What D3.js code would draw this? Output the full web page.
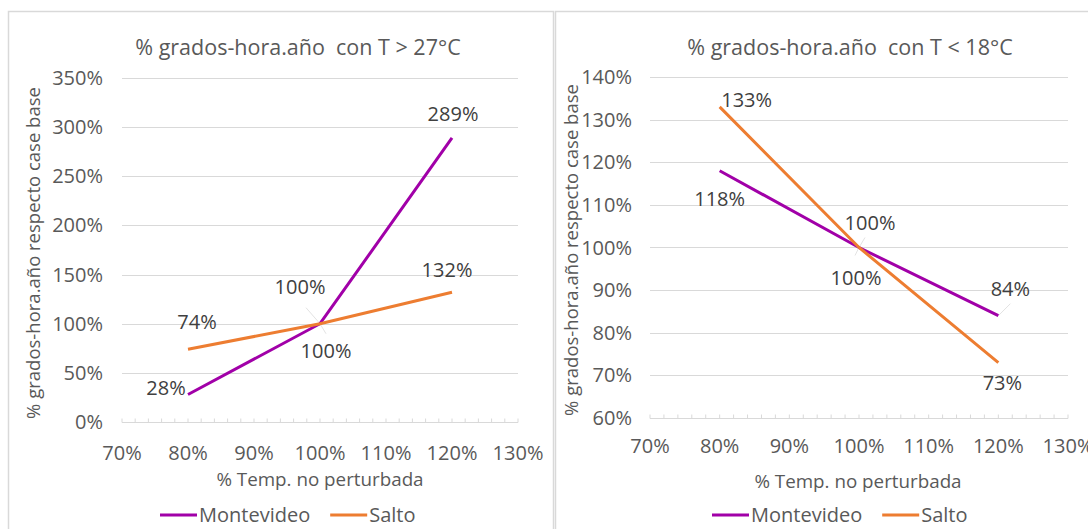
<!DOCTYPE html>
<html>
<head>
<meta charset="utf-8">
<script src="https://cdn.jsdelivr.net/npm/d3@7"></script>
<style>
html,body{margin:0;padding:0;background:#fff;}
svg{display:block;}
text{font-family:"Open Sans","Noto Sans",sans-serif;fill:#595959;white-space:pre;}
</style>
</head>
<body>
<svg id="chart" width="1088" height="529"></svg>
<script>
// ---- data ----
const xValues = [0.8, 1.0, 1.2];
const seriesNames = ["Montevideo", "Salto"];
const seriesColors = ["#A100A8", "#ED7D31"];

const hotTitle = "% grados-hora.año  con T > 27°C";
const hotMontevideo = [0.28, 1.00, 2.89];
const hotSalto = [0.74, 1.00, 1.32];
const hotYTicks = [0, 0.5, 1.0, 1.5, 2.0, 2.5, 3.0, 3.5];

const coldTitle = "% grados-hora.año  con T < 18°C";
const coldMontevideo = [1.18, 1.00, 0.84];
const coldSalto = [1.33, 1.00, 0.73];
const coldYTicks = [0.6, 0.7, 0.8, 0.9, 1.0, 1.1, 1.2, 1.3, 1.4];

const xTicks = [0.7, 0.8, 0.9, 1.0, 1.1, 1.2, 1.3];
const xTitle = "% Temp. no perturbada";
const yTitle = "% grados-hora.año respecto case base";

const svg = d3.select("#chart");
const fmt = d3.format(".0%");

function drawChart(opt) {
  const g = svg.append("g");
  // frame
  g.append("rect").attr("x", opt.frame[0] + 0.5).attr("y", opt.frame[1] + 0.5)
    .attr("width", opt.frame[2]).attr("height", opt.frame[3])
    .attr("fill", "#fff").attr("stroke", "#d9d9d9").attr("stroke-width", 1.5);

  const x = d3.scaleLinear().domain([0.7, 1.3]).range(opt.xr);
  const y = d3.scaleLinear().domain(opt.yd).range(opt.yr);

  // gridlines
  g.append("g").selectAll("line").data(opt.yTicks.slice(1)).join("line")
    .attr("x1", opt.xr[0]).attr("x2", opt.xr[1])
    .attr("y1", d => Math.round(y(d)) + 0.5).attr("y2", d => Math.round(y(d)) + 0.5)
    .attr("stroke", "#d9d9d9").attr("stroke-width", 1.2);

  // x axis with minor ticks pointing up
  const minor = d3.range(0, 31).map(i => 0.7 + i * 0.02);
  const ax = g.append("g").attr("transform", `translate(0,${Math.round(y(opt.yd[0])) + 0.5})`);
  ax.append("line").attr("x1", opt.xr[0]).attr("x2", opt.xr[1]).attr("stroke", "#d9d9d9").attr("stroke-width", 1.2);
  ax.selectAll("line.t").data(minor).join("line").attr("class", "t")
    .attr("x1", d => x(d)).attr("x2", d => x(d)).attr("y1", 0).attr("y2", -4)
    .attr("stroke", "#d9d9d9").attr("stroke-width", 1);
  ax.selectAll("text").data(xTicks).join("text")
    .attr("x", d => x(d)).attr("y", opt.xLabelDy).attr("text-anchor", "middle")
    .attr("font-size", 20).text(d => fmt(d));

  // y tick labels
  g.append("g").selectAll("text").data(opt.yTicks).join("text")
    .attr("x", opt.yLabelX).attr("y", d => y(d) + 7).attr("text-anchor", "end")
    .attr("font-size", 20).text(d => fmt(d));

  // titles
  g.append("text").attr("x", opt.titleX).attr("y", 55).attr("text-anchor", "middle")
    .attr("font-size", 21.5).text(opt.title);
  g.append("text").attr("x", opt.xTitleX).attr("y", opt.xTitleY).attr("text-anchor", "middle")
    .attr("font-size", 18.8).text(xTitle);
  g.append("text").attr("transform", `translate(${opt.yTitleX},${opt.yTitleY}) rotate(-90)`)
    .attr("text-anchor", "middle").attr("font-size", 18.5).text(yTitle);

  // leader lines
  opt.leaders.forEach(l => {
    g.append("line").attr("x1", x(l[0])).attr("y1", y(l[1]))
      .attr("x2", x(l[0]) + l[2]).attr("y2", y(l[1]) + l[3])
      .attr("stroke", "#e3e3e3").attr("stroke-width", 1);
  });

  // lines
  const line = d3.line().x((d, i) => x(xValues[i])).y(d => y(d));
  opt.series.forEach((s, si) => {
    g.append("path").datum(s).attr("d", line).attr("fill", "none")
      .attr("stroke", seriesColors[si]).attr("stroke-width", 3);
  });

  // data labels
  opt.series.forEach((s, si) => {
    s.forEach((v, i) => {
      const off = opt.labelOff[si][i];
      g.append("text").attr("x", x(xValues[i]) + off[0]).attr("y", y(v) + off[1])
        .attr("text-anchor", "middle").attr("font-size", 20)
        .style("fill", "#404040").text(fmt(v));
    });
  });

  // legend
  const lg = g.append("g");
  let lx = opt.legendX;
  seriesNames.forEach((n, i) => {
    lg.append("line").attr("x1", lx).attr("x2", lx + 37).attr("y1", 515).attr("y2", 515)
      .attr("stroke", seriesColors[i]).attr("stroke-width", 3);
    const t = lg.append("text").attr("x", lx + 39).attr("y", 522).attr("font-size", 20).text(n);
    lx += 39 + t.node().getComputedTextLength() + 20;
  });
}

drawChart({
  frame: [8, 11, 545, 530],
  xr: [122, 518], yd: [0, 3.5], yr: [422, 78],
  yTicks: hotYTicks, title: hotTitle,
  titleX: 298, xTitleX: 320, xTitleY: 486, xLabelDy: 37,
  yTitleX: 40, yTitleY: 253, yLabelX: 103,
  series: [hotMontevideo, hotSalto],
  labelOff: [[[-22, 1], [6, 34], [1, -17]], [[9, -20], [-20, -30], [-5, -15]]],
  leaders: [[1.0, 1.0, -14, -16], [1.0, 1.0, 6, 10]],
  legendX: 160
});

drawChart({
  frame: [555, 11, 545, 530],
  xr: [650, 1068], yd: [0.6, 1.4], yr: [418, 77],
  yTicks: coldYTicks, title: coldTitle,
  titleX: 850, xTitleX: 858, xTitleY: 488, xLabelDy: 34,
  yTitleX: 578, yTitleY: 250, yLabelX: 632,
  series: [coldMontevideo, coldSalto],
  labelOff: [[[0, 35], [-3, 37], [12, -20]], [[27, 0], [11, -18], [4, 27]]],
  leaders: [[1.0, 1.0, 6, -10], [1.0, 1.0, -4, 8], [1.2, 0.84, 12, -12]],
  legendX: 712
});
</script>
</body>
</html>
